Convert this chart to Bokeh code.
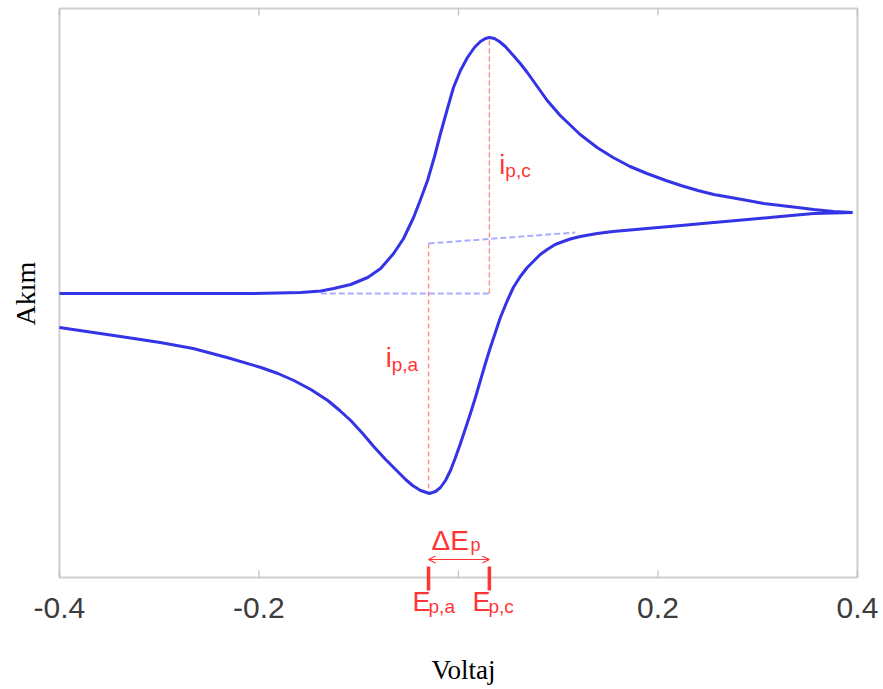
import math
from bokeh.plotting import figure
from bokeh.models import Range1d, FixedTicker, Label, Arrow, OpenHead
from bokeh.embed import file_html
from bokeh.resources import INLINE

# Forward scan (potential in V, current in arbitrary units)
fwd_v = [-0.400, -0.309, -0.209, -0.158, -0.138, -0.125, -0.108, -0.091, -0.078,
         -0.065, -0.055, -0.045, -0.038, -0.031, -0.024, -0.018, -0.011, -0.005,
         0.002, 0.009, 0.016, 0.022, 0.027, 0.031, 0.036, 0.041, 0.047, 0.055,
         0.062, 0.069, 0.079, 0.089, 0.102, 0.122, 0.139, 0.155, 0.172, 0.189,
         0.208, 0.223, 0.240, 0.256, 0.273, 0.290, 0.306, 0.323, 0.340, 0.356,
         0.376, 0.395]
fwd_i = [0.00, 0.00, 0.00, 0.01, 0.025, 0.05, 0.09, 0.16, 0.25,
         0.40, 0.55, 0.76, 0.94, 1.13, 1.37, 1.60, 1.85, 2.06,
         2.23, 2.36, 2.46, 2.52, 2.55, 2.56, 2.55, 2.52, 2.47, 2.38,
         2.30, 2.21, 2.07, 1.93, 1.78, 1.59, 1.46, 1.36, 1.27, 1.20,
         1.13, 1.08, 1.03, 0.99, 0.96, 0.93, 0.90, 0.88, 0.86, 0.84,
         0.82, 0.81]

# Reverse scan
rev_v = [0.395, 0.376, 0.356, 0.323, 0.290, 0.256, 0.223, 0.189, 0.155, 0.139,
         0.122, 0.112, 0.105, 0.097, 0.089, 0.082, 0.077, 0.069, 0.062, 0.055,
         0.049, 0.042, 0.037, 0.032, 0.027, 0.022, 0.017, 0.012, 0.007, 0.002,
         -0.003, -0.008, -0.013, -0.018, -0.023, -0.029, -0.038, -0.046, -0.053,
         -0.061, -0.073, -0.085, -0.096, -0.108, -0.119, -0.131, -0.148,
         -0.165, -0.181, -0.198, -0.232, -0.266, -0.299, -0.332, -0.366, -0.400]
rev_i = [0.81, 0.805, 0.80, 0.77, 0.74, 0.71, 0.68, 0.65, 0.62, 0.60,
         0.57, 0.545, 0.52, 0.49, 0.44, 0.39, 0.34, 0.26, 0.17, 0.06,
         -0.07, -0.24, -0.39, -0.54, -0.70, -0.87, -1.04, -1.20, -1.35, -1.50,
         -1.64, -1.77, -1.87, -1.94, -1.98, -2.00, -1.97, -1.92, -1.86,
         -1.78, -1.66, -1.53, -1.40, -1.27, -1.17, -1.07, -0.96,
         -0.87, -0.80, -0.74, -0.64, -0.55, -0.49, -0.44, -0.39, -0.34]

# Peak potentials and currents
ep_a, ep_c = -0.030, 0.031
ip_a, ip_c = -2.00, 2.56

# Extrapolated baselines
base_c_v = [-0.138, ep_c]
base_c_i = [0.00, 0.00]
base_a_v = [ep_a, 0.117]
base_a_i = [0.50, 0.61]

# Plot box, tick marks and tick labels
v_min, v_max = -0.4, 0.4
i_min, i_max = -2.84, 2.85
tick_values = [-0.4, -0.2, 0.0, 0.2, 0.4]
label_values = [-0.4, -0.2, 0.2, 0.4]
label_text = ["-0.4", "-0.2", "0.2", "0.4"]
tick_len = 0.07

BLUE = "#3434e6"
RED = "#ff3535"
RED_LIGHT = "#ff8a8a"
FRAME = "#cfcfcf"
TICK = "#bdbdbd"

# The canvas spans the whole page so that annotations below the box stay visible
p = figure(width=883, height=689, output_backend="svg", toolbar_location=None,
           x_range=Range1d(-0.4591, 0.4261), y_range=Range1d(-3.96, 2.93),
           y_axis_location=None, min_border=0)
p.grid.visible = False
p.outline_line_color = None
p.background_fill_color = "white"

# box
p.quad(left=[v_min], right=[v_max], bottom=[i_min], top=[i_max],
       fill_color=None, line_color=FRAME, line_width=2)

# inward tick marks on the bottom and top edges of the box
n = len(tick_values)
p.segment(x0=tick_values, y0=[i_min] * n, x1=tick_values, y1=[i_min + tick_len] * n,
          line_color=TICK, line_width=1.2)
p.segment(x0=tick_values, y0=[i_max] * n, x1=tick_values, y1=[i_max - tick_len] * n,
          line_color=TICK, line_width=1.2)

# bottom axis pinned to the box, labels only
xa = p.xaxis[0]
xa.fixed_location = i_min
xa.ticker = FixedTicker(ticks=label_values)
xa.major_label_overrides = dict(zip(label_values, label_text))
xa.major_tick_line_color = None
xa.minor_tick_line_color = None
xa.axis_line_color = None
xa.major_label_text_font = "Liberation Sans"
xa.major_label_text_font_size = "30px"
xa.major_label_text_color = "#3c3c3c"
xa.major_label_standoff = 14

# axis titles
p.add_layout(Label(x=0.005, y=-3.76, text="Voltaj", text_font="Liberation Serif",
                   text_font_size="27px", text_color="black",
                   text_align="center", text_baseline="alphabetic"))
p.add_layout(Label(x=-0.434, y=0.0, text="Akım", text_font="Liberation Serif",
                   text_font_size="28px", text_color="black", angle=math.pi / 2,
                   text_align="center", text_baseline="middle"))

# baselines and peak heights
p.line(base_c_v, base_c_i, line_color="#8080ff", line_width=2, line_alpha=0.65,
       line_dash="6 3")
p.line(base_a_v, base_a_i, line_color="#8080ff", line_width=2, line_alpha=0.65,
       line_dash="6 3")
p.line([ep_c, ep_c], [base_c_i[1], ip_c], line_color=RED_LIGHT, line_width=1.4,
       line_dash="5 3")
p.line([ep_a, ep_a], [base_a_i[0], ip_a], line_color=RED_LIGHT, line_width=1.4,
       line_dash="5 3")

# voltammogram
p.line(fwd_v, fwd_i, line_color=BLUE, line_width=3, line_join="round")
p.line(rev_v, rev_i, line_color=BLUE, line_width=3, line_join="round")

# peak separation marker
p.add_layout(Arrow(start=OpenHead(size=7, line_color=RED, line_width=1.2),
                   end=OpenHead(size=7, line_color=RED, line_width=1.2),
                   x_start=ep_a, x_end=ep_c, y_start=-2.66, y_end=-2.66,
                   line_color=RED, line_width=1.2))
p.segment(x0=[ep_a, ep_c], y0=[-2.73, -2.73], x1=[ep_a, ep_c], y1=[-2.97, -2.97],
          line_color=RED, line_width=3.5)

# labels with subscripts: (main text, x, y, size), (sub text, x, y, size)
label_main = [("i", 0.041, 1.29, "27px"), ("i", -0.073, -0.64, "27px"),
              ("ΔE", -0.027, -2.47, "28px"), ("E", -0.046, -3.08, "27px"),
              ("E", 0.014, -3.08, "27px")]
label_sub = [("p,c", 0.047, 1.23, "19px"), ("p,a", -0.067, -0.71, "19px"),
             ("p", 0.012, -2.51, "18px"), ("p,a", -0.030, -3.13, "19px"),
             ("p,c", 0.030, -3.13, "19px")]
for (t, xv, yv, fs), (st, sx, sy, sfs) in zip(label_main, label_sub):
    p.add_layout(Label(x=xv, y=yv, text=t, text_font="Liberation Sans",
                       text_font_size=fs, text_color=RED,
                       text_baseline="alphabetic", text_align="left"))
    p.add_layout(Label(x=sx, y=sy, text=st, text_font="Liberation Sans",
                       text_font_size=sfs, text_color=RED,
                       text_baseline="alphabetic", text_align="left"))

open("out.html", "w").write(file_html(p, INLINE))
